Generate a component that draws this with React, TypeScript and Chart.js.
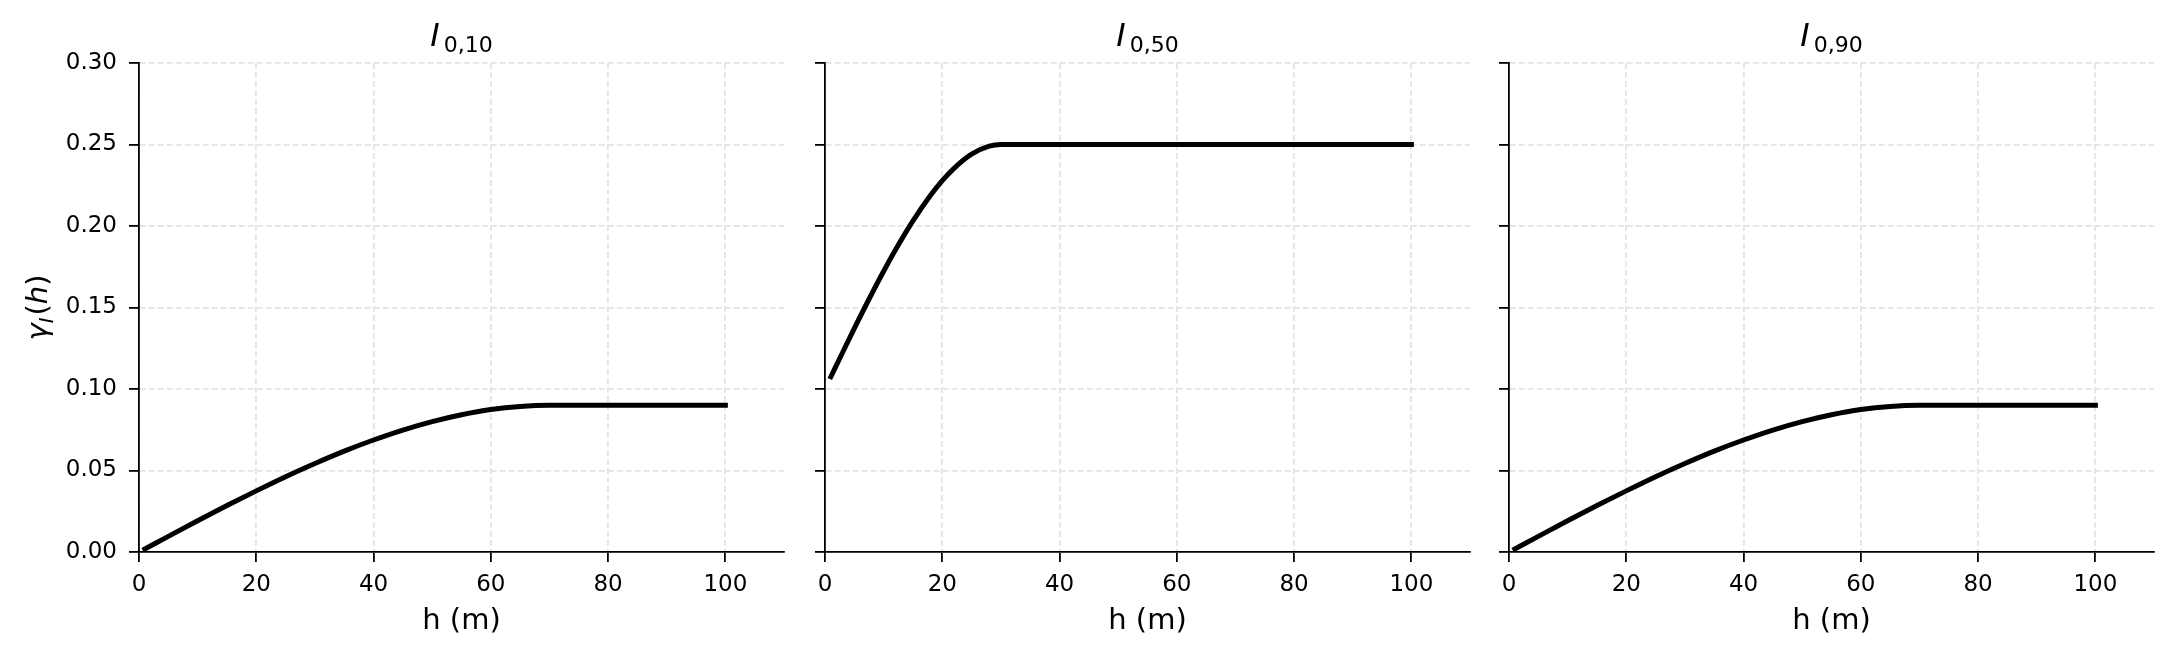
import { useEffect, useRef } from "react";
import { Chart, registerables } from "chart.js";

Chart.register(...registerables);

// lag distances (m) for each panel
const lagsI10 = [1, 5, 10, 15, 20, 25, 30, 35, 40, 45, 50, 55, 60, 65, 70, 80, 90, 100];
const lagsI50 = [1, 3, 5, 8, 10, 12, 15, 18, 20, 22, 25, 28, 30, 40, 50, 60, 70, 80, 90, 100];
const lagsI90 = [1, 5, 10, 15, 20, 25, 30, 35, 40, 45, 50, 55, 60, 65, 70, 80, 90, 100];

// indicator semivariogram values
const gammaI10 = [0.0019, 0.0096, 0.0192, 0.0285, 0.0375, 0.0462, 0.0543, 0.0619, 0.0687, 0.0748, 0.08, 0.0842, 0.0874, 0.0893, 0.09, 0.09, 0.09, 0.09];
const gammaI50 = [0.1075, 0.1224, 0.1372, 0.1586, 0.1722, 0.1852, 0.2031, 0.2188, 0.2278, 0.2354, 0.2441, 0.249, 0.25, 0.25, 0.25, 0.25, 0.25, 0.25, 0.25, 0.25];
const gammaI90 = [0.0019, 0.0096, 0.0192, 0.0285, 0.0375, 0.0462, 0.0543, 0.0619, 0.0687, 0.0748, 0.08, 0.0842, 0.0874, 0.0893, 0.09, 0.09, 0.09, 0.09];

const panelSubs = ["0,10", "0,50", "0,90"];
const xTicks = [0, 20, 40, 60, 80, 100];
const yTicks = [0, 0.05, 0.1, 0.15, 0.2, 0.25, 0.3];

const FONT = '"DejaVu Sans", sans-serif';

const mathLabels = (sub: string, showY: boolean) => ({
  id: "mathLabels",
  afterDraw(chart: any) {
    const { ctx, chartArea } = chart;
    const cx = (chartArea.left + chartArea.right) / 2;
    ctx.save();
    ctx.fillStyle = "#000";
    ctx.textBaseline = "alphabetic";
    ctx.textAlign = "left";

    // title  I_{0,xx}
    const big = `italic 32px ${FONT}`;
    const small = `22px ${FONT}`;
    ctx.font = big;
    const wI = ctx.measureText("I").width;
    ctx.font = small;
    const wS = ctx.measureText(sub).width;
    const gap = 4;
    const x0 = cx - (wI + gap + wS) / 2;
    ctx.font = big;
    ctx.fillText("I", x0, 46);
    ctx.font = small;
    ctx.fillText(sub, x0 + wI + gap, 52);

    // x axis label
    ctx.font = `29px ${FONT}`;
    ctx.textAlign = "center";
    ctx.fillText("h (m)", cx, 629);

    // y axis label  gamma_I(h)
    if (showY) {
      const parts = [
        { t: "γ", f: `italic 29px ${FONT}`, dy: 0 },
        { t: "I", f: `italic 20px ${FONT}`, dy: 6 },
        { t: "(", f: `29px ${FONT}`, dy: 0 },
        { t: "h", f: `italic 29px ${FONT}`, dy: 0 },
        { t: ")", f: `29px ${FONT}`, dy: 0 },
      ];
      const widths = parts.map((p) => {
        ctx.font = p.f;
        return ctx.measureText(p.t).width;
      });
      const total = widths.reduce((a, b) => a + b, 0) + 2;
      ctx.translate(47, (chartArea.top + chartArea.bottom) / 2);
      ctx.rotate(-Math.PI / 2);
      ctx.textAlign = "left";
      let x = -total / 2;
      parts.forEach((p, i) => {
        ctx.font = p.f;
        ctx.fillText(p.t, x, p.dy);
        x += widths[i] + (i === 1 ? 2 : 0);
      });
    }
    ctx.restore();
  },
});

interface PanelProps {
  lags: number[];
  values: number[];
  sub: string;
  showY: boolean;
  left: number;
}

const Panel: React.FC<PanelProps> = ({ lags, values, sub, showY, left }) => {
  const chartRef = useRef<HTMLCanvasElement | null>(null);
  const chartInstanceRef = useRef<Chart<"line"> | null>(null);

  useEffect(() => {
    if (!chartRef.current) return;
    const ctx = chartRef.current.getContext("2d");
    if (!ctx) return;
    if (chartInstanceRef.current) chartInstanceRef.current.destroy();

    const grid = {
      color: "#e4e4e4",
      lineWidth: 1.8,
      tickColor: "#000",
      tickWidth: 1.8,
      tickLength: 10,
      tickBorderDash: [],
    };
    const border = { color: "#000", width: 1.8, dash: [6, 3] };
    const tickFont = { family: FONT, size: 23 };

    chartInstanceRef.current = new Chart(ctx, {
      type: "line",
      data: {
        datasets: [
          {
            data: lags.map((h, i) => ({ x: h, y: values[i] })),
            borderColor: "#000",
            borderWidth: 5,
            borderCapStyle: "square",
            pointRadius: 0,
            fill: false,
            cubicInterpolationMode: "monotone",
          },
        ],
      },
      options: {
        responsive: false,
        animation: false,
        layout: { padding: { top: 63, right: 16, left: 0, bottom: 0 } },
        plugins: { legend: { display: false }, tooltip: { enabled: false } },
        scales: {
          x: {
            type: "linear",
            min: 0,
            max: 110,
            afterBuildTicks: (s: any) => {
              s.ticks = xTicks.map((v) => ({ value: v }));
            },
            afterFit: (s: any) => {
              s.height = 103;
            },
            ticks: { color: "#000", font: tickFont, padding: 9, maxRotation: 0, includeBounds: false },
            grid,
            border,
          },
          y: {
            min: 0,
            max: 0.3,
            afterBuildTicks: (s: any) => {
              s.ticks = yTicks.map((v) => ({ value: v }));
            },
            afterFit: (s: any) => {
              s.width = 139;
            },
            ticks: {
              color: "#000",
              font: tickFont,
              padding: 12,
              callback: (v: any) => (showY ? Number(v).toFixed(2) : ""),
            },
            grid,
            border,
          },
        },
      },
      plugins: [mathLabels(sub, showY)],
    } as any);

    return () => {
      if (chartInstanceRef.current) {
        chartInstanceRef.current.destroy();
        chartInstanceRef.current = null;
      }
    };
  }, [lags, values, sub, showY]);

  return (
    <canvas
      ref={chartRef}
      width={800}
      height={655}
      style={{ position: "absolute", left, top: 0, width: 800, height: 655 }}
    />
  );
};

export default function App() {
  return (
    <div style={{ position: "absolute", left: 0, top: 0, width: 2174, height: 655, background: "#fff", overflow: "hidden" }}>
      <Panel lags={lagsI10} values={gammaI10} sub={panelSubs[0]} showY={true} left={0} />
      <Panel lags={lagsI50} values={gammaI50} sub={panelSubs[1]} showY={false} left={686} />
      <Panel lags={lagsI90} values={gammaI90} sub={panelSubs[2]} showY={false} left={1370} />
    </div>
  );
}
